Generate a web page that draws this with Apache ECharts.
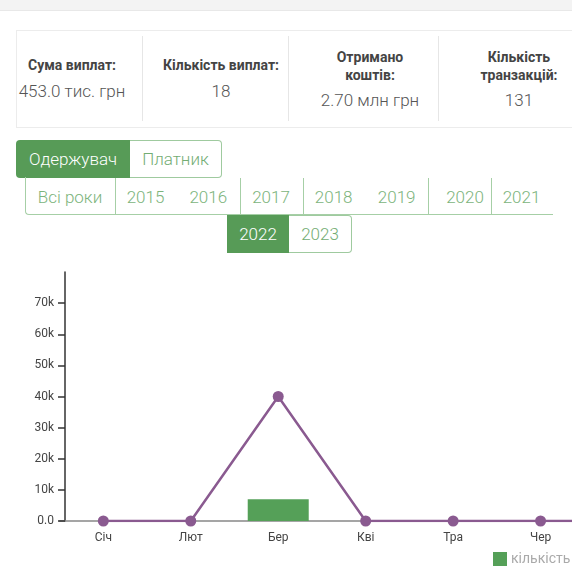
<!DOCTYPE html>
<html>
<head>
<meta charset="utf-8">
<script src="https://cdn.jsdelivr.net/npm/echarts@6/dist/echarts.min.js"></script>
<style>
  html, body { margin: 0; padding: 0; background: #fff; }
  body { width: 572px; height: 573px; overflow: hidden; position: relative; font-family: Roboto, "Noto Sans", sans-serif; }
  .abs { position: absolute; }
  .topbar { left: 0; top: 0; width: 572px; height: 10px; background: #f3f3f3; border-bottom: 1px solid #e8e8e8; }
  .card { left: 16px; top: 30px; width: 620px; height: 96px; border: 1px solid #ececec; box-sizing: content-box; }
  .vdiv { top: 36px; width: 1px; height: 85px; background: #e6e6e6; }
  .t { width: 160px; text-align: center; white-space: nowrap; }
  .title { font-weight: 700; font-size: 14px; color: #444; line-height: 18px; height: 18px; }
  .val { font-weight: 300; font-size: 17px; color: #555; line-height: 20px; height: 20px; }
  .btn { box-sizing: border-box; display: flex; align-items: center; justify-content: center; font-size: 17px; font-weight: 300; }
  .green { background: #579b57; color: #fff; }
  .white { background: #fff; color: #73ad73; border: 1px solid #9fca9f; }
  .yr { font-size: 17px; font-weight: 300; color: #7cb47c; width: 80px; text-align: center; line-height: 20px; }
  .ydiv { top: 178px; width: 1px; height: 37px; background: #a6cfa6; }
  #chart { position: absolute; left: 0; top: 250px; width: 1120px; height: 323px; }
</style>
</head>
<body>
<div class="abs topbar"></div>
<div class="abs card"></div>
<div class="abs vdiv" style="left:142px"></div>
<div class="abs vdiv" style="left:288px"></div>
<div class="abs vdiv" style="left:438px"></div>

<div class="abs t title" style="left:-8px;top:56px">Сума виплат:</div>
<div class="abs t val" style="left:-8px;top:81px">453.0 тис. грн</div>

<div class="abs t title" style="left:141px;top:56px">Кількість виплат:</div>
<div class="abs t val" style="left:141px;top:81px">18</div>

<div class="abs t title" style="left:290px;top:48px">Отримано</div>
<div class="abs t title" style="left:290px;top:66px">коштів:</div>
<div class="abs t val" style="left:290px;top:90px">2.70 млн грн</div>

<div class="abs t title" style="left:439px;top:48px">Кількість</div>
<div class="abs t title" style="left:439px;top:66px">транзакцій:</div>
<div class="abs t val" style="left:439px;top:90px">131</div>

<div class="abs btn green" style="left:16px;top:140px;width:114px;height:38px;border-radius:4px 0 0 4px;">Одержувач</div>
<div class="abs btn white" style="left:130px;top:140px;width:92px;height:38px;border-left:none;border-radius:0 4px 4px 0;">Платник</div>

<div class="abs" style="left:25px;top:177px;width:528px;height:38px;box-sizing:border-box;border-left:1px solid #a6cfa6;border-bottom:1px solid #a6cfa6;border-radius:0 0 0 4px;"></div>
<div class="abs ydiv" style="left:115px"></div>
<div class="abs ydiv" style="left:240px"></div>
<div class="abs ydiv" style="left:303px"></div>
<div class="abs ydiv" style="left:428px"></div>
<div class="abs ydiv" style="left:491px"></div>
<div class="abs yr" style="left:30px;top:187px">Всі роки</div>
<div class="abs yr" style="left:105.5px;top:187px">2015</div>
<div class="abs yr" style="left:168.3px;top:187px">2016</div>
<div class="abs yr" style="left:231px;top:187px">2017</div>
<div class="abs yr" style="left:293.7px;top:187px">2018</div>
<div class="abs yr" style="left:356.7px;top:187px">2019</div>
<div class="abs yr" style="left:425px;top:187px">2020</div>
<div class="abs yr" style="left:481.5px;top:187px">2021</div>

<div class="abs btn green" style="left:227px;top:215px;width:62px;height:38px;">2022</div>
<div class="abs btn white" style="left:289px;top:215px;width:63px;height:38px;border-left:none;border-radius:0 4px 4px 0;">2023</div>

<div id="chart"></div>
<script>
const months = ['Січ', 'Лют', 'Бер', 'Кві', 'Тра', 'Чер', 'Лип', 'Сер', 'Вер', 'Жов', 'Лис', 'Гру'];
const sumValues = [0, 0, 40000, 0, 0, 0, 0, 0, 0, 0, 0, 0];
const countValues = [0, 0, 7000, 0, 0, 0, 0, 0, 0, 0, 0, 0];
const yTickValues = [0, 10000, 20000, 30000, 40000, 50000, 60000, 70000];
const yTickLabels = ['0.0', '10k', '20k', '30k', '40k', '50k', '60k', '70k'];

const chart = echarts.init(document.getElementById('chart'), null, { renderer: 'canvas' });
chart.setOption({
  animation: false,
  legend: {
    data: ['кількість'],
    left: 493, top: 302, padding: 0,
    icon: 'rect', itemWidth: 14, itemHeight: 14, itemGap: 10,
    textStyle: { color: '#aaa', fontSize: 14, fontFamily: 'Roboto', padding: [0, 0, 0, -1] }
  },
  grid: { left: 59.6, top: 22, width: 1049.4, height: 249, containLabel: false },
  xAxis: {
    type: 'category',
    data: months,
    boundaryGap: true,
    axisLine: { lineStyle: { color: '#888', width: 1.5 } },
    axisTick: { alignWithLabel: true, length: 6, lineStyle: { color: '#333', width: 1.5 } },
    axisLabel: { color: '#444', fontSize: 12, margin: 11, fontFamily: 'Roboto' }
  },
  yAxis: {
    type: 'value',
    min: 0, max: 80000, interval: 10000,
    offset: -5.4,
    axisLine: { show: true, lineStyle: { color: '#333', width: 1.5 } },
    axisTick: { show: true, length: 7, lineStyle: { color: '#333', width: 1.5 } },
    splitLine: { show: false },
    axisLabel: {
      showMaxLabel: false,
      margin: 11, fontSize: 12, color: '#444', fontFamily: 'Roboto',
      formatter: function (v) {
        const i = yTickValues.indexOf(v);
        return i >= 0 ? yTickLabels[i] : '';
      }
    }
  },
  series: [
    {
      name: 'кількість',
      type: 'bar',
      data: countValues,
      barWidth: 61,
      itemStyle: { color: '#55a058' }
    },
    {
      name: 'сума',
      type: 'line',
      data: sumValues,
      symbol: 'circle',
      symbolSize: 11,
      showAllSymbol: true,
      lineStyle: { color: '#8a5a90', width: 2.5 },
      itemStyle: { color: '#8a5a90' },
      z: 3
    }
  ]
});
</script>
</body>
</html>
